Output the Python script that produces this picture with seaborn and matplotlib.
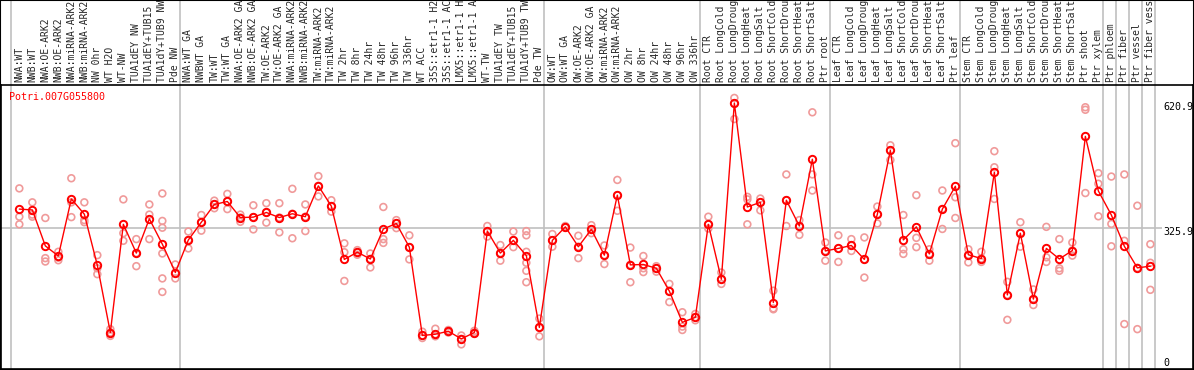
import matplotlib
matplotlib.use("Agg")
import matplotlib.pyplot as plt
from matplotlib.patches import Rectangle
import seaborn as sns
import pandas as pd
import numpy as np

title = "Potri.007G055800"

categories = [
    "NWA:WT", "NWB:WT", "NWA:OE-ARK2", "NWB:OE-ARK2", "NWA:miRNA-ARK2", "NWB:miRNA-ARK2",
    "NW 0hr", "WT H2O", "WT-NW", "TUA1dEY NW", "TUA1dEY+TUB15 NW", "TUA1dY+TUB9 NW", "Pde NW",
    "NWA:WT GA", "NWBWT GA", "TW:WT", "TW:WT GA", "NWA:OE-ARK2 GA", "NWB:OE-ARK2 GA",
    "TW:OE-ARK2", "TW:OE-ARK2 GA", "NWA:miRNA-ARK2 GA", "NWB:miRNA-ARK2 GA", "TW:miRNA-ARK2",
    "TW:miRNA-ARK2 GA", "TW 2hr", "TW 8hr", "TW 24hr", "TW 48hr", "TW 96hr", "TW 336hr",
    "WT ACC", "35S::etr1-1 H2O", "35S::etr1-1 ACC", "LMX5::etr1-1 H2O", "LMX5::etr1-1 ACC",
    "WT-TW", "TUA1dEY TW", "TUA1dEY+TUB15 TW", "TUA1dY+TUB9 TW", "Pde TW",
    "OW:WT", "OW:WT GA", "OW:OE-ARK2", "OW:OE-ARK2 GA", "OW:miRNA-ARK2", "OW:miRNA-ARK2 GA",
    "OW 2hr", "OW 8hr", "OW 24hr", "OW 48hr", "OW 96hr", "OW 336hr",
    "Root CTR", "Root LongCold", "Root LongDrought", "Root LongHeat", "Root LongSalt",
    "Root ShortCold", "Root ShortDrought", "Root ShortHeat", "Root ShortSalt", "Ptr root",
    "Leaf CTR", "Leaf LongCold", "Leaf LongDrought", "Leaf LongHeat", "Leaf LongSalt",
    "Leaf ShortCold", "Leaf ShortDrought", "Leaf ShortHeat", "Leaf ShortSalt", "Ptr leaf",
    "Stem CTR", "Stem LongCold", "Stem LongDrought", "Stem LongHeat", "Stem LongSalt",
    "Stem ShortCold", "Stem ShortDrought", "Stem ShortHeat", "Stem ShortSalt", "Ptr shoot",
    "Ptr xylem", "Ptr phloem", "Ptr fiber", "Ptr vessel", "Ptr fiber vessel",
]

means = [
    370, 368, 283, 259, 394, 358, 237, 78, 334, 266, 347, 287, 220,
    297, 339, 381, 388, 350, 351, 362, 350, 359, 352, 425, 377, 251, 268, 252, 323, 336, 280,
    71, 74, 81, 63, 78, 318, 266, 296, 260, 90,
    296, 328, 281, 322, 261, 403, 238, 239, 230, 176, 102, 114,
    334, 204, 620.9, 375, 386, 149, 391, 330, 488, 271,
    277, 284, 251, 358, 509, 297, 328, 264, 370, 424,
    262, 253, 457, 167, 313, 157, 277, 252, 272, 542, 413,
    356, 282, 231, 235,
]

replicates = [
    [419, 352, 334], [386, 357, 352], [349, 254, 246], [269, 249, 255], [443, 386, 351],
    [386, 344, 339], [261, 230, 216], [86, 78, 70], [393, 313, 295], [299, 266, 235],
    [381, 357, 299], [407, 342, 326, 265, 206, 174], [239, 206, 220],
    [317, 277, 297], [356, 319, 339], [390, 372, 381], [406, 370, 388], [357, 340, 350],
    [379, 322, 351], [384, 338, 362], [384, 315, 350], [418, 301, 359], [381, 318, 352],
    [448, 400, 425], [391, 364, 377], [289, 268, 200], [273, 262, 268], [265, 232, 252],
    [375, 299, 290], [344, 325, 336], [308, 251, 280], [80, 65, 71], [87, 69, 74],
    [84, 81, 78], [71, 50, 63], [82, 78, 75], [330, 305, 318], [285, 248, 266],
    [317, 280, 296], [318, 308, 269, 243, 224, 197], [111, 69, 90],
    [311, 281, 296], [330, 328, 326], [307, 254, 281], [332, 313, 322], [284, 240, 261],
    [439, 366, 403], [279, 197, 238], [259, 230, 221], [235, 222, 230], [193, 150, 176],
    [126, 92, 84], [122, 107, 114],
    [352, 324, 334], [220, 193, 204], [633, 583, 620], [399, 393, 334], [395, 367, 386],
    [177, 135, 133], [452, 330, 391], [344, 309, 330], [599, 452, 414], [291, 248, 271],
    [308, 245, 277], [299, 271, 284], [303, 208, 251], [376, 336, 358], [521, 486, 509],
    [356, 275, 264], [403, 302, 280], [275, 248, 264], [414, 323, 370], [526, 398, 349],
    [275, 244, 262], [269, 245, 253], [507, 469, 394], [198, 108, 167], [339, 281, 313],
    [180, 143, 157], [328, 256, 245], [299, 230, 224], [291, 260, 272], [611, 605, 408],
    [455, 430, 353],
    [447, 335, 282], [452, 295, 98], [378, 86, 231], [287, 243, 179],
]

group_starts = [0, 13, 41, 53, 63, 73, 84, 85, 86, 87, 88]
ref_values = [620.9, 325.9, 0]
ref_labels = ["620.9", "325.9", "0"]

sns.set_style("white")
plt.rcParams["font.family"] = ["DejaVu Sans Mono", "DejaVu Sans"]

W, H = 1194, 370
fig = plt.figure(figsize=(W / 100, H / 100), dpi=100)
fig.patch.set_facecolor("white")

# axes pixel box: x 1..1193, y 85..369 (from top)
ax = fig.add_axes([1 / W, 1 / H, 1192 / W, 284 / H])

idx = np.arange(len(categories))
rep_x, rep_y = [], []
for i, reps in enumerate(replicates):
    for v in reps:
        rep_x.append(i)
        rep_y.append(v)
rep_df = pd.DataFrame({"x": rep_x, "y": rep_y})
mean_df = pd.DataFrame({"x": idx, "y": means})

# separators and reference gridline
ymax_fig = (H - 1) / 284.0
for g in group_starts:
    ax.axvline(g - 0.64, ymin=0, ymax=ymax_fig, color="#c0c0c0", lw=1.2,
               clip_on=False, zorder=0)
ax.hlines(325.9, -1.5, 87.9, color="#c0c0c0", lw=1.2, zorder=0)

sns.scatterplot(data=rep_df, x="x", y="y", ax=ax, marker="o", s=24,
                facecolors="none", edgecolor="#f09a9a", linewidth=1.2, zorder=2)
sns.lineplot(data=mean_df, x="x", y="y", ax=ax, color="#ff0000", lw=1.0,
             marker="o", markersize=5.3, markerfacecolor="none",
             markeredgecolor="#ff0000", markeredgewidth=1.4, zorder=3)

ax.set_xlim(-1.41, 90.28)
ax.set_ylim(-8.3, 663.6)
ax.set_xlabel("")
ax.set_ylabel("")
ax.set_yticks([])

ax.xaxis.set_ticks_position("top")
ax.set_xticks(idx)
ax.set_xticklabels(categories, rotation=90, fontsize=7, fontfamily="DejaVu Sans Mono",
                   ha="center", va="bottom")
ax.tick_params(axis="x", length=0, pad=2)

for sp in ax.spines.values():
    sp.set_color("black")
    sp.set_linewidth(1.2)

ax.text(-0.78, 636, title, color="#ff0000", fontsize=7.2,
        fontfamily="DejaVu Sans Mono", ha="left", va="center")

for v, lab in zip(ref_values, ref_labels):
    yy = v if v > 0 else 16
    ax.text(87.98, yy + 2, lab, color="black", fontsize=7.2,
            fontfamily="DejaVu Sans Mono", ha="left", va="top")

fig.patches.append(Rectangle((0, 0), 1, 1, transform=fig.transFigure, fill=False,
                             edgecolor="black", lw=1.5))

fig.savefig("out.png", dpi=100, facecolor="white")
